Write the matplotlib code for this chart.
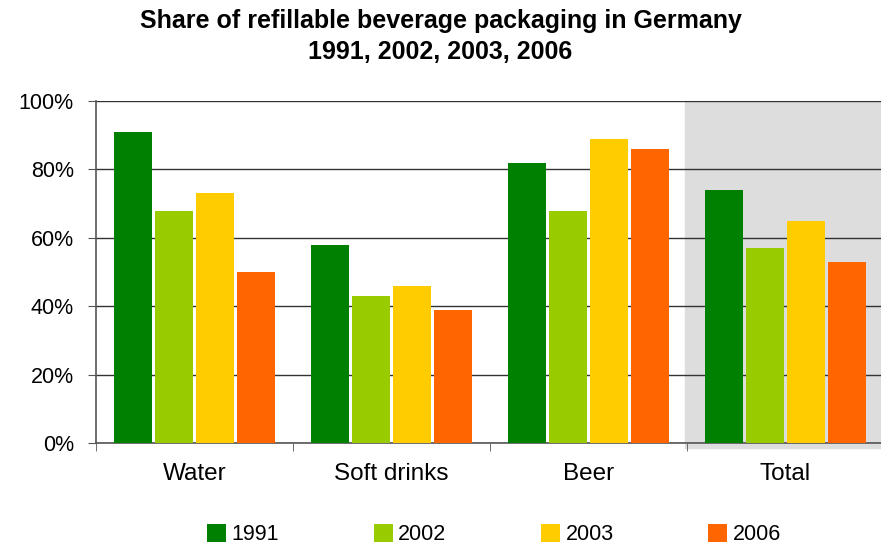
import matplotlib
matplotlib.use('Agg')
import matplotlib.pyplot as plt
import numpy as np

categories = ['Water', 'Soft drinks', 'Beer', 'Total']
years = ['1991', '2002', '2003', '2006']
share_1991 = [91, 58, 82, 74]
share_2002 = [68, 43, 68, 57]
share_2003 = [73, 46, 89, 65]
share_2006 = [50, 39, 86, 53]
colors = ['#008000', '#99CC00', '#FFCC00', '#FF6600']

plt.rcParams['font.family'] = ['Liberation Sans', 'DejaVu Sans']

fig = plt.figure(figsize=(8.81, 5.48), dpi=100)
ax = fig.add_axes([0.109, 0.1907, 0.894, 0.625])

x = np.arange(len(categories))
pitch = 0.208
width = 0.193
series = [share_1991, share_2002, share_2003, share_2006]
for i, vals in enumerate(series):
    ax.bar(x + (i - 1.5) * pitch, vals, width, color=colors[i], label=years[i], zorder=3)

# shaded "Total" group
ax.axvspan(2.49, 3.6, ymin=-0.012, ymax=1, color='#DDDDDD', zorder=0, clip_on=False)

ax.set_xlim(-0.5, 3.5)
ax.set_ylim(0, 100)
ax.set_yticks([0, 20, 40, 60, 80, 100])
ax.set_yticklabels(['0%', '20%', '40%', '60%', '80%', '100%'], fontsize=15.5)
ax.set_xticks(x)
ax.set_xticklabels(categories, fontsize=17.5)
ax.tick_params(axis='x', length=0, pad=14)
ax.set_xticks([-0.5, 0.5, 1.5, 2.5], minor=True)
ax.tick_params(axis='x', which='minor', length=6, color='#555555', direction='out')
ax.tick_params(axis='y', length=6, color='#555555', direction='out', pad=10)

ax.yaxis.grid(True, color='#333333', linewidth=1.0, zorder=1)
ax.set_axisbelow(True)
for s in ['top', 'right']:
    ax.spines[s].set_visible(False)
for s in ['left', 'bottom']:
    ax.spines[s].set_color('#555555')
    ax.spines[s].set_linewidth(1.2)

fig.text(0.5, 0.962, 'Share of refillable beverage packaging in Germany',
         ha='center', va='center', fontsize=18, fontweight='bold')
fig.text(0.5, 0.905, '1991, 2002, 2003, 2006',
         ha='center', va='center', fontsize=18, fontweight='bold')

fig.legend(loc='center', bbox_to_anchor=(0.561, 0.024), ncol=4, frameon=False,
           fontsize=15.5, handlelength=0.88, handleheight=0.88, handletextpad=0.25,
           columnspacing=4.4, borderpad=0)

fig.savefig('out.png', dpi=100)
